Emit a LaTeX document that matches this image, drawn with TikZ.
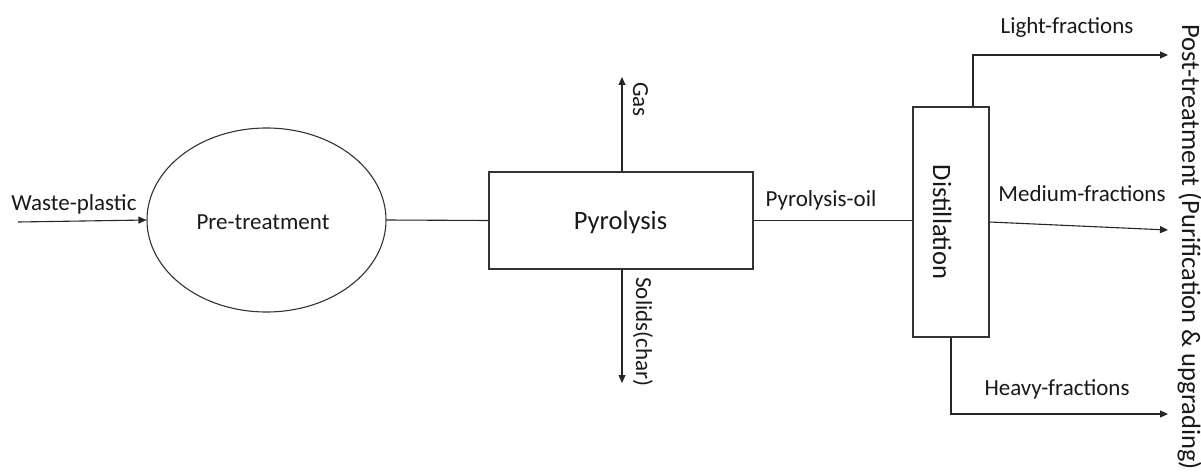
\documentclass[tikz,border=0pt]{standalone}
\usepackage{fontspec}
\setmainfont{Carlito}
\usetikzlibrary{arrows.meta,shapes.geometric}
\begin{document}
\begin{tikzpicture}[x=1pt,y=-1pt,
  line/.style={draw=black!85,line width=1.1pt},
  arr/.style={line,-{Triangle[length=8pt,width=7pt]}},
  lbl/.style={font=\fontsize{23}{28}\selectfont,text=black!90,inner sep=0pt,anchor=base},
  big/.style={font=\fontsize{26.5}{32}\selectfont,text=black!90,inner sep=0pt,anchor=base},
  vlbl/.style={lbl,rotate=-90},
  vbig/.style={big,rotate=-90},
  unit/.style={line,draw=black!80,fill=white,inner sep=0pt}]
\useasboundingbox (0,0) rectangle (1201,476);

% process units
\node[unit,ellipse,minimum width=239pt,minimum height=184pt] (pre) at (266.5,220) {};
\node[unit,rectangle,minimum width=264pt,minimum height=97pt] (pyro) at (621,220.5) {};
\node[unit,rectangle,minimum width=76pt,minimum height=230pt] (dist) at (951,222) {};

% unit names
\node[lbl] (pretxt) at (263,229) {Pre-treatment};
\node[big] (pyrotxt) at (620.5,229) {Pyrolysis};
\node[vbig] (disttxt) at (933,222) {Distillation};

% free ends of the streams
\coordinate (wsrc) at (18,222);
\coordinate (gastip) at (622,77);
\coordinate (soltip) at (622,383);
\coordinate (lighttip) at (1168,55);
\coordinate (medtip) at (1168,230);
\coordinate (heavytip) at (1168,414);

% streams
\draw[arr] (wsrc) -- (pre.west);
\draw[line] (pre.east) -- (pyro.west);
\draw[arr] (pyro.north -| gastip) -- (gastip);
\draw[arr] (pyro.south -| soltip) -- (soltip);
\draw[line] (pyro.east) -- (dist.west |- pyro.east);
\draw[arr] ([xshift=22pt]dist.north) |- (lighttip);
\draw[arr] (dist.east) -- (medtip);
\draw[arr] (dist.south) |- (heavytip);

% stream labels
\node[lbl] (wtxt) at (74,210) {Waste-plastic};
\node[vlbl] (gastxt) at (633,99.5) {Gas};
\node[vlbl] (soltxt) at (636,332) {Solids(char)};
\node[lbl] (oiltxt) at (821,206) {Pyrolysis-oil};
\node[lbl] (lighttxt) at (1067,34) {Light-fractions};
\node[lbl] (medtxt) at (1082,201) {Medium-fractions};
\node[lbl] (heavytxt) at (1057,395) {Heavy-fractions};
\node[vbig] (posttxt) at (1182,247) {Post-treatment (Purification \& upgrading)};
\end{tikzpicture}
\end{document}
